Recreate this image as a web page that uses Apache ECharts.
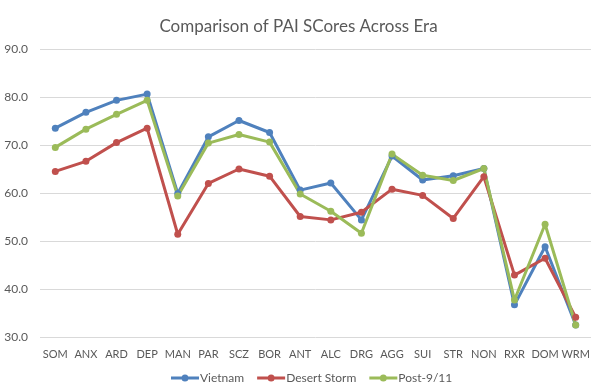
<!DOCTYPE html>
<html><head><meta charset="utf-8">
<script src="https://cdn.jsdelivr.net/npm/echarts@6/dist/echarts.min.js"></script>
<style>html,body{margin:0;padding:0;background:#fff}#c{width:597px;height:392px}</style>
</head><body><div id="c"></div>
<script>
const categories = ['SOM','ANX','ARD','DEP','MAN','PAR','SCZ','BOR','ANT','ALC','DRG','AGG','SUI','STR','NON','RXR','DOM','WRM'];
const vietnam = [73.5,76.8,79.3,80.6,59.9,71.7,75.1,72.6,60.6,62.1,54.4,67.7,62.7,63.6,65.1,36.7,48.8,32.5];
const desertStorm = [64.5,66.6,70.5,73.5,51.4,62.0,65.0,63.5,55.1,54.4,56.0,60.8,59.5,54.7,63.4,42.9,46.4,34.1];
const post911 = [69.5,73.3,76.4,79.3,59.4,70.4,72.2,70.6,59.8,56.2,51.6,68.1,63.7,62.6,65.1,37.7,53.5,32.5];
const yTicks = {min:30, max:90, interval:10};

const font = 'Lato, "Open Sans", sans-serif';
const chart = echarts.init(document.getElementById('c'), null, {renderer:'canvas'});
function s(name, data, color){
  return {name, type:'line', data, symbol:'circle', symbolSize:7, showSymbol:true,
    lineStyle:{width:3, color}, itemStyle:{color}, emphasis:{disabled:true}};
}
chart.setOption({
  animation:false,
  title:{text:'Comparison of PAI SCores Across Era', left:'center', top:13,
    textStyle:{fontFamily:font, fontSize:17, fontWeight:'normal', color:'#595959'}},
  grid:{left:40, right:6, top:49, bottom:55, containLabel:false},
  legend:{bottom:3, left:166, itemWidth:28, itemHeight:8, itemGap:13,
    icon:'path://M0,2.5L28,2.5L28,5.5L0,5.5Z M17.5,4A3.5,3.5 0 1 1 10.5,4A3.5,3.5 0 1 1 17.5,4Z',
    textStyle:{fontFamily:font, fontSize:12, color:'#595959', padding:[0,0,0,-4]},
    data:['Vietnam','Desert Storm','Post-9/11']},
  xAxis:{type:'category', data:categories, boundaryGap:true,
    axisLine:{show:false}, axisTick:{show:false},
    axisLabel:{fontFamily:font, fontSize:11, color:'#595959', margin:12, interval:0}},
  yAxis:{type:'value', min:yTicks.min, max:yTicks.max, interval:yTicks.interval,
    axisLine:{show:false}, axisTick:{show:false},
    splitLine:{lineStyle:{color:'#d9d9d9', width:1}},
    axisLabel:{fontFamily:font, fontSize:12, color:'#595959', margin:12, formatter:v=>v.toFixed(1)}},
  series:[s('Vietnam',vietnam,'#4F81BD'), s('Desert Storm',desertStorm,'#C0504D'), s('Post-9/11',post911,'#9BBB59')]
});
</script></body></html>
